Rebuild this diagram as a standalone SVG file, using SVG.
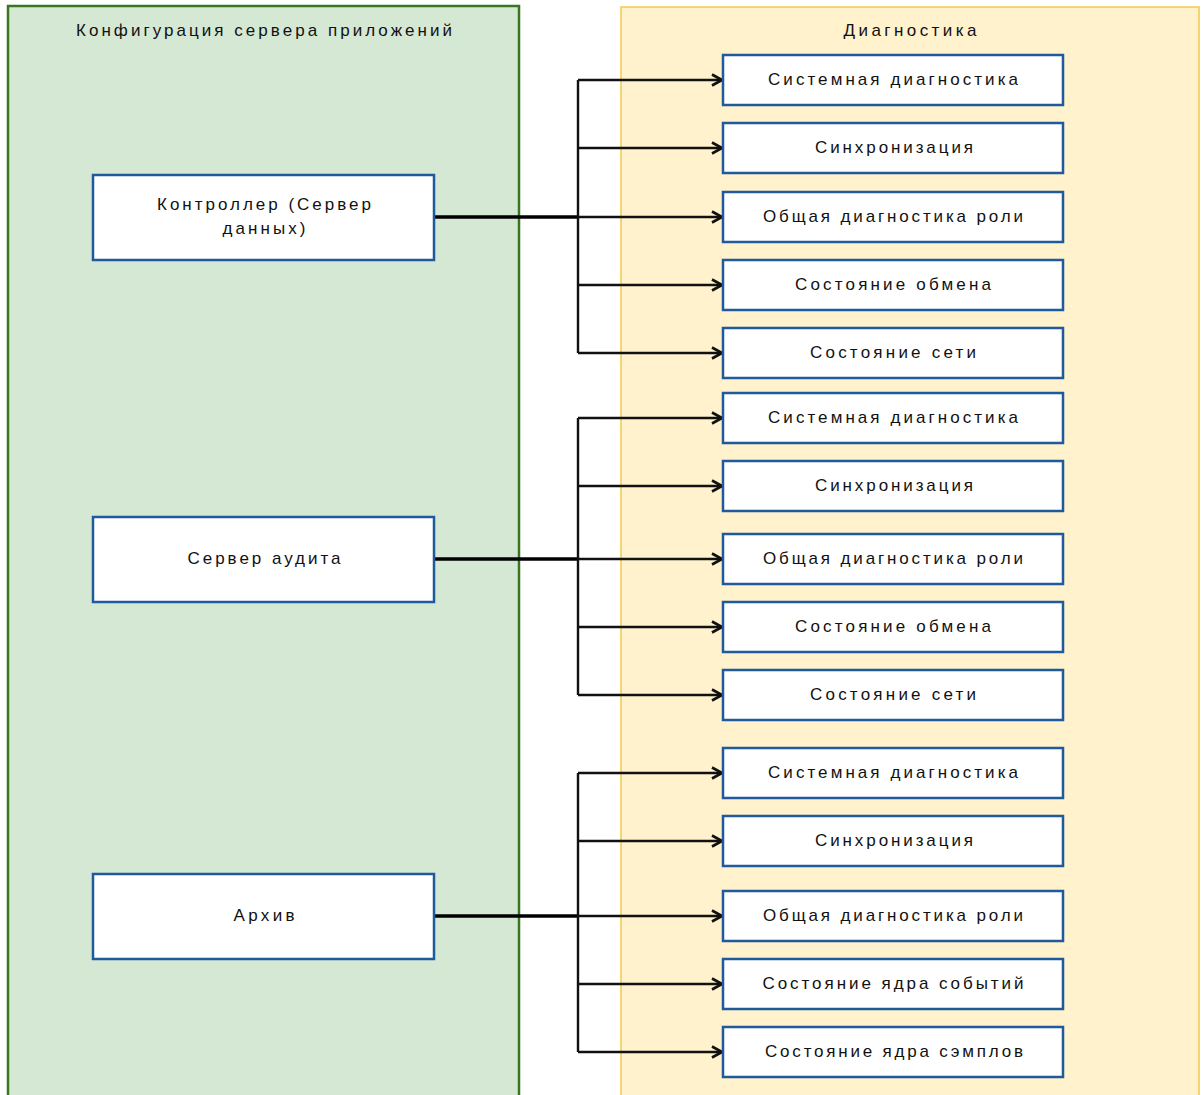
<svg xmlns="http://www.w3.org/2000/svg" width="1201" height="1095" viewBox="0 0 1201 1095">
  <style>
    .lbl { font-family: "Liberation Sans", "DejaVu Sans", sans-serif; font-size: 17px; fill: #111; text-anchor: middle; dominant-baseline: central; }
    .box { fill: #ffffff; stroke: #1f5a9c; stroke-width: 2.5; }
    .wire { fill: none; stroke: #111; stroke-width: 2.4; }
    .feed { fill: none; stroke: #000; stroke-width: 3.6; }
  </style>
  <defs>
    <marker id="arr" viewBox="0 0 14 14" refX="13" refY="7" markerWidth="14" markerHeight="14" markerUnits="userSpaceOnUse" orient="auto">
      <path d="M3,1.5 L13,7 L3,12.5" fill="none" stroke="#111" stroke-width="2.6"/>
    </marker>
  </defs>

  <rect width="1201" height="1095" fill="#ffffff"/>

  <!-- containers -->
  <g id="appserver-config">
    <rect x="8" y="6" width="511" height="1100" fill="#d5e8d4" stroke="#3a761f" stroke-width="2.5"/>
    <text class="lbl" x="264" y="30" textLength="376" lengthAdjust="spacing">Конфигурация сервера приложений</text>
  </g>
  <g id="diagnostics">
    <rect x="621" y="7" width="578" height="1100" fill="#fff2cc" stroke="#f2c94c" stroke-width="1.5"/>
    <text class="lbl" x="910" y="30" textLength="133" lengthAdjust="spacing">Диагностика</text>
  </g>

  <!-- connectors -->
  <g id="connectors">
    <path class="feed" d="M434,217 H578"/>
    <path class="wire" d="M578,80 V353"/>
    <path class="wire" d="M578,80 H722" marker-end="url(#arr)"/>
    <path class="wire" d="M578,148 H722" marker-end="url(#arr)"/>
    <path class="wire" d="M578,217 H722" marker-end="url(#arr)"/>
    <path class="wire" d="M578,285 H722" marker-end="url(#arr)"/>
    <path class="wire" d="M578,353 H722" marker-end="url(#arr)"/>

    <path class="feed" d="M434,559 H578"/>
    <path class="wire" d="M578,418 V695"/>
    <path class="wire" d="M578,418 H722" marker-end="url(#arr)"/>
    <path class="wire" d="M578,486 H722" marker-end="url(#arr)"/>
    <path class="wire" d="M578,559 H722" marker-end="url(#arr)"/>
    <path class="wire" d="M578,627 H722" marker-end="url(#arr)"/>
    <path class="wire" d="M578,695 H722" marker-end="url(#arr)"/>

    <path class="feed" d="M434,916 H578"/>
    <path class="wire" d="M578,773 V1052"/>
    <path class="wire" d="M578,773 H722" marker-end="url(#arr)"/>
    <path class="wire" d="M578,841 H722" marker-end="url(#arr)"/>
    <path class="wire" d="M578,916 H722" marker-end="url(#arr)"/>
    <path class="wire" d="M578,984 H722" marker-end="url(#arr)"/>
    <path class="wire" d="M578,1052 H722" marker-end="url(#arr)"/>
  </g>

  <!-- server nodes -->
  <g id="controller">
    <rect class="box" x="93" y="175" width="341" height="85"/>
    <text class="lbl" x="264" y="204" textLength="214" lengthAdjust="spacing">Контроллер (Сервер</text>
    <text class="lbl" x="264" y="228" textLength="83" lengthAdjust="spacing">данных)</text>
  </g>
  <g id="audit-server">
    <rect class="box" x="93" y="517" width="341" height="85"/>
    <text class="lbl" x="264" y="558" textLength="153" lengthAdjust="spacing">Сервер аудита</text>
  </g>
  <g id="archive">
    <rect class="box" x="93" y="874" width="341" height="85"/>
    <text class="lbl" x="264" y="915" textLength="61" lengthAdjust="spacing">Архив</text>
  </g>

  <!-- diagnostics for controller -->
  <g id="c-sysdiag">
    <rect class="box" x="723" y="55" width="340" height="50"/>
    <text class="lbl" x="893" y="79" textLength="250" lengthAdjust="spacing">Системная диагностика</text>
  </g>
  <g id="c-sync">
    <rect class="box" x="723" y="123" width="340" height="50"/>
    <text class="lbl" x="894" y="147" textLength="158" lengthAdjust="spacing">Синхронизация</text>
  </g>
  <g id="c-role">
    <rect class="box" x="723" y="192" width="340" height="50"/>
    <text class="lbl" x="893" y="216" textLength="260" lengthAdjust="spacing">Общая диагностика роли</text>
  </g>
  <g id="c-exchange">
    <rect class="box" x="723" y="260" width="340" height="50"/>
    <text class="lbl" x="893" y="284" textLength="196" lengthAdjust="spacing">Состояние обмена</text>
  </g>
  <g id="c-network">
    <rect class="box" x="723" y="328" width="340" height="50"/>
    <text class="lbl" x="893" y="352" textLength="166" lengthAdjust="spacing">Состояние сети</text>
  </g>

  <!-- diagnostics for audit server -->
  <g id="a-sysdiag">
    <rect class="box" x="723" y="393" width="340" height="50"/>
    <text class="lbl" x="893" y="417" textLength="250" lengthAdjust="spacing">Системная диагностика</text>
  </g>
  <g id="a-sync">
    <rect class="box" x="723" y="461" width="340" height="50"/>
    <text class="lbl" x="894" y="485" textLength="158" lengthAdjust="spacing">Синхронизация</text>
  </g>
  <g id="a-role">
    <rect class="box" x="723" y="534" width="340" height="50"/>
    <text class="lbl" x="893" y="558" textLength="260" lengthAdjust="spacing">Общая диагностика роли</text>
  </g>
  <g id="a-exchange">
    <rect class="box" x="723" y="602" width="340" height="50"/>
    <text class="lbl" x="893" y="626" textLength="196" lengthAdjust="spacing">Состояние обмена</text>
  </g>
  <g id="a-network">
    <rect class="box" x="723" y="670" width="340" height="50"/>
    <text class="lbl" x="893" y="694" textLength="166" lengthAdjust="spacing">Состояние сети</text>
  </g>

  <!-- diagnostics for archive -->
  <g id="r-sysdiag">
    <rect class="box" x="723" y="748" width="340" height="50"/>
    <text class="lbl" x="893" y="772" textLength="250" lengthAdjust="spacing">Системная диагностика</text>
  </g>
  <g id="r-sync">
    <rect class="box" x="723" y="816" width="340" height="50"/>
    <text class="lbl" x="894" y="840" textLength="158" lengthAdjust="spacing">Синхронизация</text>
  </g>
  <g id="r-role">
    <rect class="box" x="723" y="891" width="340" height="50"/>
    <text class="lbl" x="893" y="915" textLength="260" lengthAdjust="spacing">Общая диагностика роли</text>
  </g>
  <g id="r-events">
    <rect class="box" x="723" y="959" width="340" height="50"/>
    <text class="lbl" x="893" y="983" textLength="261" lengthAdjust="spacing">Состояние ядра событий</text>
  </g>
  <g id="r-samples">
    <rect class="box" x="723" y="1027" width="340" height="50"/>
    <text class="lbl" x="894" y="1051" textLength="258" lengthAdjust="spacing">Состояние ядра сэмплов</text>
  </g>
</svg>
